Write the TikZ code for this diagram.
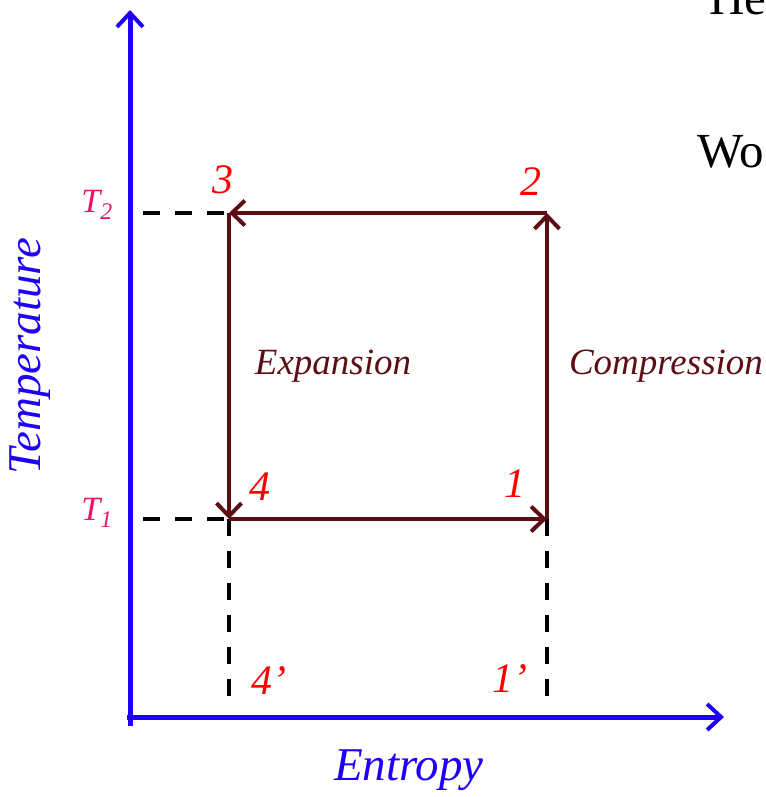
\documentclass[tikz,border=0pt]{standalone}
\usepackage{fontspec}
\setmainfont{Liberation Serif}
\usetikzlibrary{arrows.meta}
\definecolor{axisblue}{RGB}{30,0,250}
\definecolor{cyclebrown}{RGB}{92,14,20}
\definecolor{labred}{RGB}{255,0,0}
\definecolor{tpink}{RGB}{232,20,105}
\tikzset{
  axis/.style={axisblue, line width=5pt, -{Straight Barb[length=14pt,width=26pt,line width=4pt]}},
  cycle/.style={cyclebrown, line width=4pt, -{Straight Barb[length=13pt,width=25pt,line width=4pt]}},
  guide/.style={black, line width=4pt, dash pattern=on 17pt off 15pt},
  num/.style={labred, anchor=base, font=\fontsize{42}{42}\selectfont\itshape, inner sep=0pt},
  tlab/.style={tpink, anchor=base, font=\fontsize{34}{34}\selectfont\itshape, inner sep=0pt},
  proc/.style={cyclebrown, anchor=base, font=\fontsize{37}{37}\selectfont\itshape, inner sep=0pt},
  axlab/.style={axisblue, font=\fontsize{47}{47}\selectfont\itshape, inner sep=0pt},
  frag/.style={black, anchor=base west, font=\fontsize{49}{49}\selectfont, inner sep=0pt}
}
\begin{document}
\begin{tikzpicture}[x=1pt,y=-1pt]
\useasboundingbox (0,0) rectangle (765,797);
% coordinates
\coordinate (ybot) at (130,726);
\coordinate (ytop) at (130,10);
\coordinate (xleft) at (127,717);
\coordinate (xright) at (724,717);
\coordinate (p1) at (547,519);
\coordinate (p2) at (547,213);
\coordinate (p3) at (229,213);
\coordinate (p4) at (229,519);
\coordinate (t2s) at (143,213);
\coordinate (t1s) at (143,519);
\coordinate (p4b) at (229,702);
\coordinate (p1b) at (547,702);
% guides
\draw[guide] (t2s) -- (p3);
\draw[guide] (t1s) -- (p4);
\draw[guide] (p4) -- (p4b);
\draw[guide] (p1) -- (p1b);
% axes
\draw[axis] (ybot) -- (ytop);
\draw[axis] (xleft) -- (xright);
% cycle
\draw[cycle] (p1) -- (p2);
\draw[cycle] (p2) -- (p3);
\draw[cycle] (p3) -- (p4);
\draw[cycle] (p4) -- (p1);
% labels
\node[num] (n3) at (223,193) {3};
\node[num] (n2) at (531,195) {2};
\node[num] (n4) at (260,500) {4};
\node[num] (n1) at (515,497) {1};
\node[num] (n4p) at (269,694) {4’};
\node[num] (n1p) at (510,692) {1’};
\node[tlab] (T2) at (97,212) {T\textsubscript{2}};
\node[tlab] (T1) at (97,520) {T\textsubscript{1}};
\node[proc] (exp) at (333,374) {Expansion};
\node[proc] (comp) at (666,374) {Compression};
\node[axlab, rotate=90] (temp) at (30,356) {Temperature};
\node[axlab] (ent) at (409,770) {Entropy};
\node[frag] (he) at (709,15) {He};
\node[frag] (wo) at (697,167) {Wo};
\end{tikzpicture}
\end{document}
